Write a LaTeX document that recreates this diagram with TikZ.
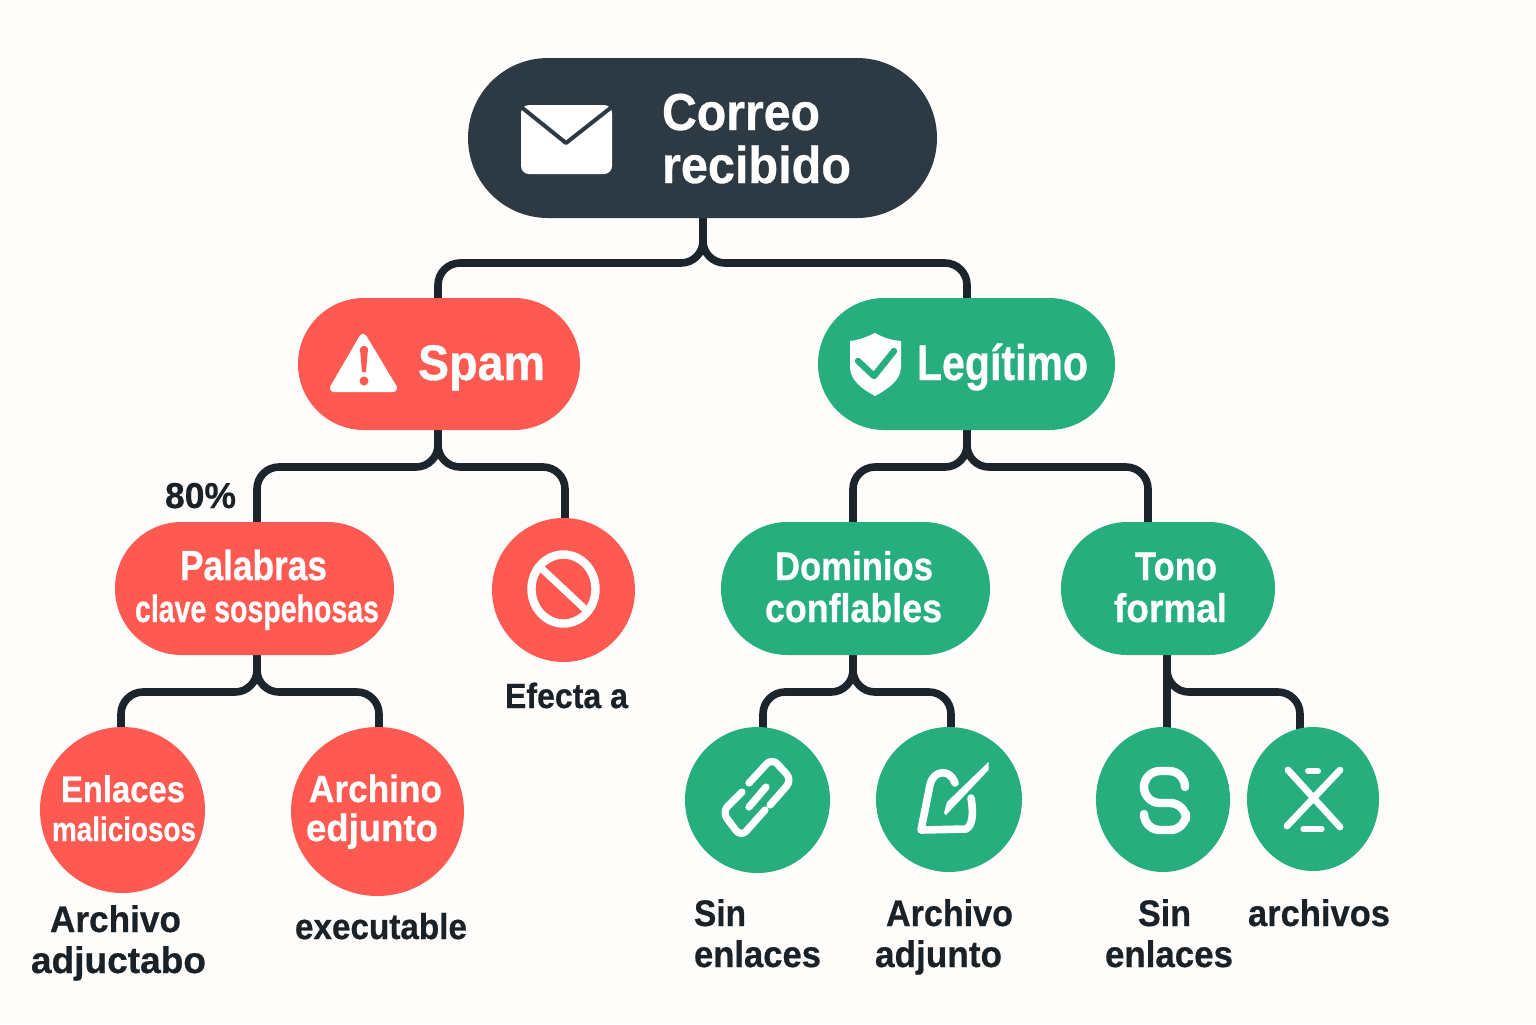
\documentclass[tikz,border=0pt]{standalone}
\usepackage{fontspec}
\usepackage{graphicx}
\setmainfont[BoldFeatures={FakeBold=0.6}]{Liberation Sans}
\usetikzlibrary{shapes.misc,shapes.geometric,backgrounds}
\definecolor{darkbox}{HTML}{2D3A43}
\definecolor{redbox}{HTML}{FF5A52}
\definecolor{greenbox}{HTML}{27AE7E}
\definecolor{wirecol}{HTML}{1C252C}
\definecolor{inkcol}{HTML}{1A2228}
\definecolor{paper}{HTML}{FEFDFC}
\newsavebox{\fitsave}
% width in px (1px = .5pt)
\newcommand{\fitbox}[2]{\sbox{\fitsave}{#2}\pgfmathsetmacro{\fitratio}{(#1*0.5)/\the\wd\fitsave}\scalebox{\fitratio}[1]{\usebox{\fitsave}}}
\newcommand{\lab}[7]{\pgfmathsetmacro{\labsz}{#5*0.5}\node[lbl,text=#6,font=\bfseries\fontsize{\labsz pt}{\labsz pt}\selectfont] (#1) at (#2,#3) {\fitbox{#4}{#7}};}
\newcommand{\pillbox}[6]{\pgfmathsetmacro{\cxx}{(#2+#4)/2}\pgfmathsetmacro{\cyy}{(#3+#5)/2}\pgfmathsetmacro{\ww}{(#4-#2)*0.5}\pgfmathsetmacro{\hh}{(#5-#3)*0.5}\node[rounded rectangle,inner sep=0pt,outer sep=0pt,fill=#6,minimum width=\ww pt,minimum height=\hh pt] (#1) at (\cxx,\cyy) {};}
\newcommand{\ovalbox}[6]{\pgfmathsetmacro{\cxx}{(#2+#4)/2}\pgfmathsetmacro{\cyy}{(#3+#5)/2}\pgfmathsetmacro{\ww}{(#4-#2)*0.5}\pgfmathsetmacro{\hh}{(#5-#3)*0.5}\node[ellipse,inner sep=0pt,outer sep=0pt,fill=#6,minimum width=\ww pt,minimum height=\hh pt] (#1) at (\cxx,\cyy) {};}
\newcommand{\branch}[5]{\draw[wire] (#2,0 |- #1.south) -- (#2,#3) -- (#5,#3) -- (#5,0 |- #4.north);}
\tikzset{
  lbl/.style={inner sep=0pt,outer sep=0pt,anchor=base west},
  wire/.style={draw=wirecol,line width=3.8pt,rounded corners=11pt,shorten >=-2pt,shorten <=-2pt},
  iconline/.style={draw=white,line width=3.6pt,line cap=round,line join=round},
}
\begin{document}
\begin{tikzpicture}[x=0.5pt,y=-0.5pt]
\useasboundingbox (0,0) rectangle (1536,1024);
% boxes
\pillbox{root}{468}{58}{937}{218}{darkbox}
\pillbox{spam}{298}{298}{580}{430}{redbox}
\pillbox{legit}{818}{298}{1115}{430}{greenbox}
\pillbox{palabras}{115}{522}{394}{655}{redbox}
\ovalbox{noentry}{492}{518}{635}{662}{redbox}
\pillbox{dominios}{721}{522}{990}{655}{greenbox}
\pillbox{tono}{1061}{522}{1275}{655}{greenbox}
\ovalbox{enlaces}{40}{727}{205}{893}{redbox}
\ovalbox{archino}{291}{727}{464}{896}{redbox}
\ovalbox{linkc}{685}{727}{830}{873}{greenbox}
\ovalbox{editc}{876}{727}{1022}{872}{greenbox}
\ovalbox{sc}{1096}{727}{1230}{872}{greenbox}
\ovalbox{xc}{1247}{727}{1379}{871}{greenbox}
% connectors
\begin{scope}[on background layer]
\fill[paper] (0,0) rectangle (1536,1024);
\branch{root}{703}{263}{spam}{438}
\branch{root}{703}{263}{legit}{967}
\branch{spam}{438}{467}{palabras}{257}
\branch{spam}{438}{467}{noentry}{565}
\branch{legit}{967}{467}{dominios}{853}
\branch{legit}{967}{467}{tono}{1148}
\branch{palabras}{257}{692}{enlaces}{121}
\branch{palabras}{257}{692}{archino}{379}
\branch{dominios}{853}{692}{linkc}{763}
\branch{dominios}{853}{692}{editc}{951}
\branch{tono}{1167}{692}{xc}{1300}
\draw[wire] (1167,0 |- tono.south) -- (1167,0 |- sc.north);
\end{scope}
% envelope icon
\fill[white,rounded corners=4pt] (521,105) rectangle (612,174);
\draw[darkbox,line width=2pt,line join=round] (520,106) -- (566,143) -- (613,106);
% warning icon
\fill[white,draw=white,line width=4pt,line join=round] (363,338) -- (334,388) -- (393,388) -- cycle;
\fill[redbox] (360,349) .. controls (360,345) and (368,345) .. (368,349) -- (366,372) -- (362,372) -- cycle;
\fill[redbox] (364,381) circle [x radius=4.5,y radius=4.5];
% shield icon
\fill[white] (875,333) .. controls (862,339) and (858,340) .. (850,341) -- (850,367) .. controls (850,380) and (862,389) .. (875,396) .. controls (888,389) and (901,380) .. (901,367) -- (901,341) .. controls (892,340) and (886,339) .. (875,333) -- cycle;
\draw[greenbox,line width=3.2pt,line cap=round,line join=round] (858,361) -- (874,376) -- (894,351);
% no-entry icon
\draw[white,line width=4.2pt] (563.5,589) circle [x radius=32,y radius=34.5];
\draw[white,line width=3.6pt] (541,568) -- (586,610);
% link icon
\draw[iconline,rounded corners=4pt] (749,783) -- (772,758) -- (792,780) -- (770,805);
\draw[iconline,rounded corners=4pt] (742,792) -- (722,812) -- (741,837) -- (765,810);
\draw[iconline] (749,807) -- (766,787);
% edit icon
\draw[iconline,line width=3.8pt] (955,783) .. controls (950,768) and (933,770) .. (930,785) -- (921,830) -- (966,829) .. controls (972,826) and (974,815) .. (971,798);
\fill[white] (988.5,762) -- (988.5,770) -- (946,815) -- (944,813) -- (947,802) -- cycle;
% S icon
\draw[draw=white,line width=4.2pt,line cap=round,line join=round,rounded corners=8pt] (1185,787) -- (1185,771) -- (1144,771) -- (1144,803) -- (1186,803) -- (1186,830) -- (1144,830) -- (1144,817);
% X icon
\draw[draw=white,line width=3.4pt,line cap=round] (1288,770) -- (1340,827);
\draw[draw=white,line width=3.4pt,line cap=round] (1340,770) -- (1287,826);
\draw[draw=white,line width=3pt,line cap=round] (1308,771) -- (1318,771);
\draw[draw=white,line width=2.6pt,line cap=round] (1303,829) -- (1322,829);
% labels
\lab{t1}{662}{130}{158}{52}{white}{Correo}
\lab{t2}{662}{183}{189}{52}{white}{recibido}
\lab{t3}{418}{380}{127}{50}{white}{Spam}
\lab{t4}{917}{380}{171}{50}{white}{Legítimo}
\lab{t5}{165}{508}{71}{36}{inkcol}{80\%}
\lab{t6}{180}{580}{147}{42}{white}{Palabras}
\lab{t7}{135}{622}{244}{38}{white}{clave sospehosas}
\lab{t8}{505}{708}{123}{35}{inkcol}{Efecta a}
\lab{t9}{775}{580}{158}{40}{white}{Dominios}
\lab{t10}{765}{622}{177}{40}{white}{conflables}
\lab{t11}{1135}{580}{82}{40}{white}{Tono}
\lab{t12}{1114}{622}{113}{40}{white}{formal}
\lab{t13}{61}{802}{124}{37}{white}{Enlaces}
\lab{t14}{52}{841}{144}{34}{white}{maliciosos}
\lab{t15}{309}{802}{133}{38}{white}{Archino}
\lab{t16}{306}{841}{132}{38}{white}{edjunto}
\lab{t17}{50}{932}{131}{37}{inkcol}{Archivo}
\lab{t18}{31}{973}{175}{37}{inkcol}{adjuctabo}
\lab{t19}{295}{939}{172}{36}{inkcol}{executable}
\lab{t20}{694}{926}{52}{37}{inkcol}{Sin}
\lab{t21}{694}{967}{127}{37}{inkcol}{enlaces}
\lab{t22}{886}{926}{127}{37}{inkcol}{Archivo}
\lab{t23}{875}{967}{127}{37}{inkcol}{adjunto}
\lab{t24}{1138}{926}{53}{37}{inkcol}{Sin}
\lab{t25}{1105}{967}{128}{37}{inkcol}{enlaces}
\lab{t26}{1248}{926}{142}{37}{inkcol}{archivos}
\end{tikzpicture}
\end{document}
